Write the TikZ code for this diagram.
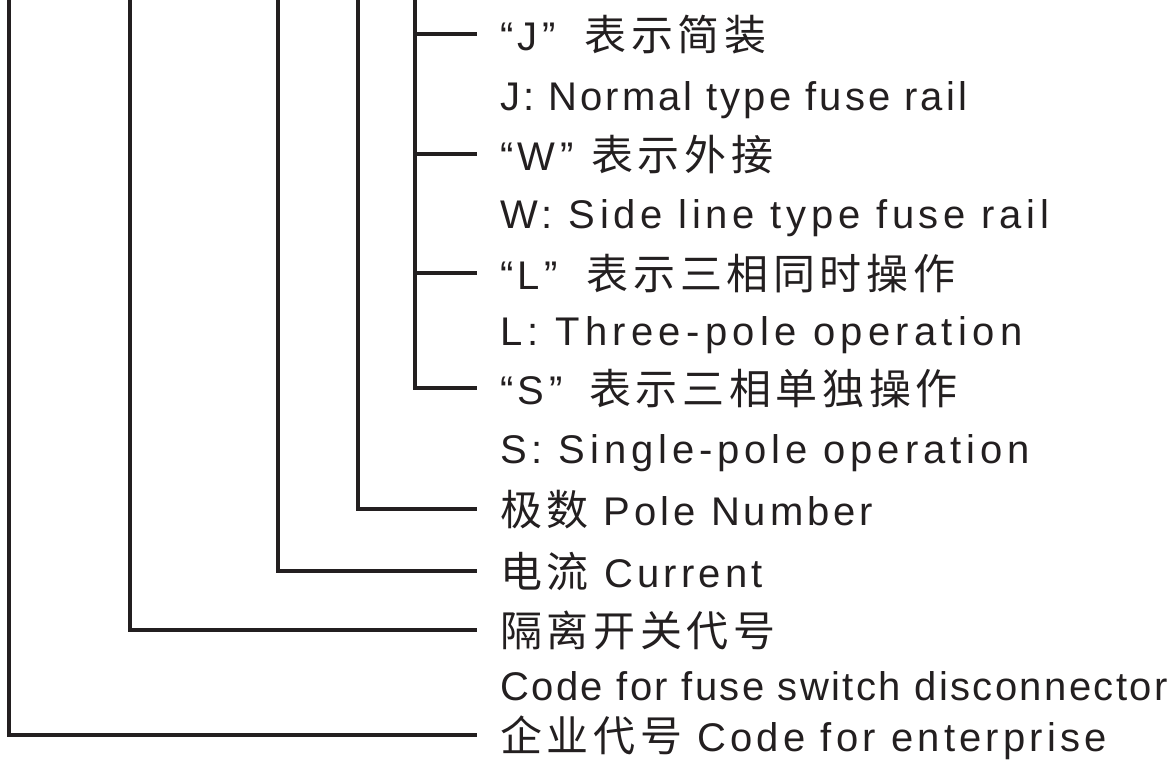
\documentclass[tikz,border=0pt]{standalone}
\usepackage{fontspec}
\usetikzlibrary{calc}
\setmainfont{Liberation Sans}
\newfontfamily\cjkfont{Noto Sans CJK SC}[LetterSpace=11]
\newcommand{\zhtxt}[1]{{\cjkfont\fontsize{42}{48}\selectfont #1}}
\newcommand{\qtag}[2]{“#1”\hspace{#2pt}}
\definecolor{ink}{HTML}{231F20}
\begin{document}
\begin{tikzpicture}[x=1pt,y=-1pt,
  conn/.style={draw=ink, line width=4.2pt, line join=miter},
  lbl/.style={anchor=base west, inner sep=0pt, text=ink,
    font=\fontsize{40}{48}\selectfont\addfontfeature{LetterSpace=#1}},
  lbl/.default=11]
\useasboundingbox (0,0) rectangle (1175,764);

% labels
\node[lbl] (J1) at (500,50)  {\qtag{J}{29}\zhtxt{表示简装}};
\node[lbl=7.6] (J2) at (500,110) {J: Normal type fuse rail};
\node[lbl] (W1) at (500,170) {\qtag{W}{18}\zhtxt{表示外接}};
\node[lbl] (L1) at (500,289) {\qtag{L}{29}\zhtxt{表示三相同时操作}};
\node[lbl=11.7] (W2) at (500,228) {W: Side line type fuse rail};
\node[lbl=13.3] (L2) at (500,345) {L: Three-pole operation};
\node[lbl] (S1) at (500,404) {\qtag{S}{27}\zhtxt{表示三相单独操作}};
\node[lbl=12.2] (S2) at (500,463) {S: Single-pole operation};
\node[lbl=10]   (P)  at (500,525) {\zhtxt{极数} Pole Number};
\node[lbl=10.5] (C)  at (500,587) {\zhtxt{电流} Current};
\node[lbl] (D1) at (500,646) {\zhtxt{隔离开关代号}};
\node[lbl=6]    (D2) at (500,700) {Code for fuse switch disconnector};
\node[lbl=10.5] (E)  at (500,751) {\zhtxt{企业代号} Code for enterprise};

% free ends at the top
\coordinate (t1) at (9,-3);
\coordinate (t2) at (130,-3);
\coordinate (t3) at (278,-3);
\coordinate (t4) at (358,-3);
\coordinate (t5) at (415,-3);

% line ends beside labels
\foreach \n in {J1,W1,L1,S1,P,C,D1,E}
  \coordinate (e\n) at ($(\n.base west)+(-23,-16)$);

\draw[conn] (t5 |- eJ1) -- (eJ1);
\draw[conn] (t5 |- eW1) -- (eW1);
\draw[conn] (t5 |- eL1) -- (eL1);
\draw[conn] (t5) |- (eS1);
\draw[conn] (t4) |- (eP);
\draw[conn] (t3) |- (eC);
\draw[conn] (t2) |- (eD1);
\draw[conn] (t1) |- (eE);
\end{tikzpicture}
\end{document}
